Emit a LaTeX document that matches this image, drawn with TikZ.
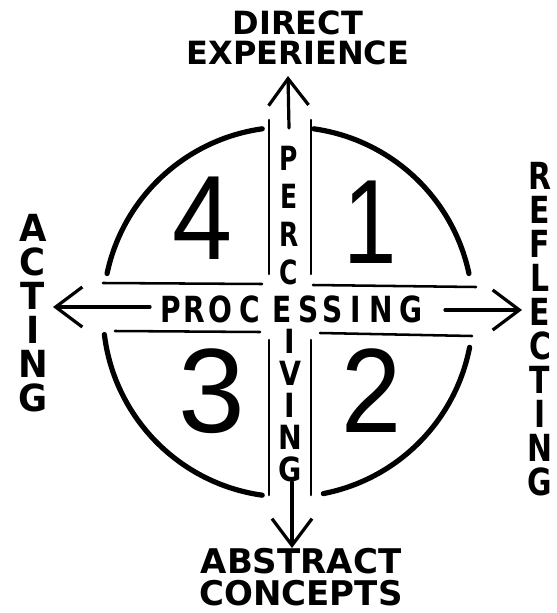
\documentclass[tikz,border=0pt]{standalone}
\usepackage{fontspec}
\setmainfont{DejaVu Sans}
\newfontfamily\digitfont{Liberation Sans}
\usetikzlibrary{arrows.meta}
\newcommand{\sx}[2]{\scalebox{#1}[1]{#2}}
\newcommand{\lb}[2]{\makebox[#1pt]{\sx{0.78}{#2}}}
\begin{document}
\begin{tikzpicture}[x=0.75pt,y=-0.75pt,
  rim/.style={line width=3.9pt, line cap=round},
  band/.style={line width=1.9pt, line cap=round},
  axis/.style={line width=2.4pt, line cap=round, -{Straight Barb[length=20pt,width=30pt]}},
  lab/.style={font=\fontsize{24}{23}\selectfont\bfseries, inner sep=0pt, align=center},
  blab/.style={font=\fontsize{25.5}{24.5}\selectfont\bfseries, inner sep=0pt, align=center},
  plab/.style={font=\fontsize{27}{30}\selectfont\bfseries, inner sep=0pt},
  vlab/.style={font=\fontsize{28}{25.5}\selectfont\bfseries, inner sep=0pt, align=center},
  clab/.style={font=\fontsize{25}{28.5}\selectfont\bfseries, inner sep=0pt, align=center},
  ilab/.style={font=\fontsize{25}{24}\selectfont\bfseries, inner sep=0pt, align=center},
  num/.style={font=\digitfont\fontsize{90}{92}\selectfont, inner sep=0pt}]
\useasboundingbox (0,0) rectangle (556,613);
\fill[white] (0,0) rectangle (556,613);
% circle arcs
\coordinate (c) at (288,312);
\draw[rim] (c) ++(-98:185) arc[start angle=-98, end angle=-168, radius=185];
\draw[rim] (c) ++(-82:185) arc[start angle=-82, end angle=-12, radius=185];
\draw[rim] (c) ++(11:185) arc[start angle=11, end angle=79, radius=185];
\draw[rim] (c) ++(173:185) arc[start angle=173, end angle=98, radius=185];
% bands
\draw[band] (103,283) -- (262,284) (313,285) -- (476,287);
\draw[band] (115,331) -- (260,332) (320,333) -- (472,336);
\draw[band] (269,120) -- (269,274) (269,340) -- (269,495);
\draw[band] (311,120) -- (311,274) (311,340) -- (311,495);
% axes
\coordinate (hl) at (150,307); \coordinate (hlt) at (53,307);
\coordinate (hr) at (445,310); \coordinate (hrt) at (522,310);
\coordinate (vu) at (289,128); \coordinate (vut) at (288,76);
\coordinate (vd) at (292,482); \coordinate (vdt) at (292,548);
\draw[axis] (hl) -- (hlt);
\draw[axis] (hr) -- (hrt);
\draw[axis] (vu) -- (vut);
\draw[axis] (vd) -- (vdt);
% top / bottom labels
\node[lab] (direct) at (298,38) {DIRECT\\EXPERIENCE};
\node[blab] (abstr) at (301,577) {ABSTRACT\\CONCEPTS};
% PROCESSING
\node[plab, anchor=west] (proc) at (160,309)
  {\lb{16.5}{P}\lb{18.4}{R}\lb{20.25}{O}\lb{24.4}{C}\lb{22.9}{E}\lb{18}{S}\lb{17.6}{S}\lb{16.9}{I}\lb{21}{N}\lb{24.75}{G}};
% PERC / IVING
\node[clab] (perc) at (289,216) {\sx{0.75}{P}\\\sx{0.75}{E}\\\sx{0.75}{R}\\\sx{0.75}{C}};
\node[ilab] (iving) at (290,406) {\sx{0.85}{I}\\\sx{0.85}{V}\\\sx{0.85}{I}\\\sx{0.85}{N}\\\sx{0.85}{G}};
% ACTING
\node[vlab] (acting) at (33,313) {\sx{0.95}{A}\\\sx{0.95}{C}\\\sx{0.95}{T}\\\sx{0.95}{I}\\\sx{0.95}{N}\\\sx{0.95}{G}};
% REFLECTING
\node[vlab] (reflecting) at (540,329) {\sx{0.8}{R}\\\sx{0.8}{E}\\\sx{0.8}{F}\\\sx{0.8}{L}\\\sx{0.8}{E}\\\sx{0.8}{C}\\\sx{0.8}{T}\\\sx{0.8}{I}\\\sx{0.8}{N}\\\sx{0.8}{G}};
% quadrant numbers
\node[num] (n4) at (203,218) {\sx{0.9}{4}};
\node[num] (n1) at (370,222) {\sx{0.8}{1}};
\node[num] (n3) at (212,391) {3};
\node[num] (n2) at (372,391) {\sx{0.9}{2}};
\end{tikzpicture}
\end{document}
